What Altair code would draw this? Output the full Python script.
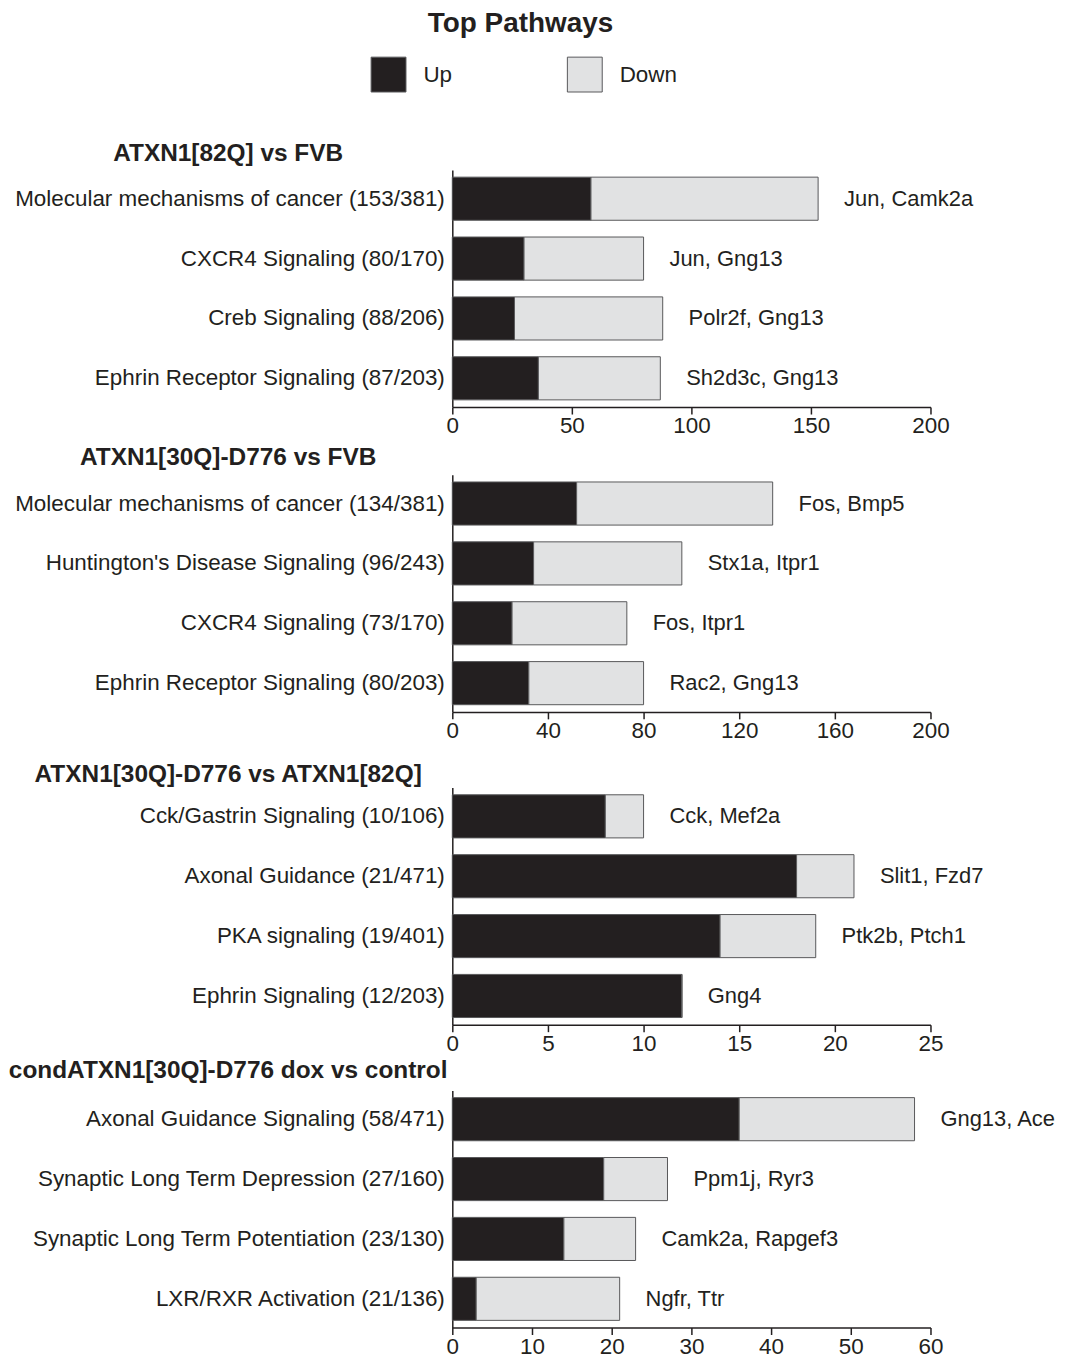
import altair as alt
import pandas as pd

FONT = "Liberation Sans"
INK = "#231f20"
UP_COLOR = "#231f20"
DOWN_COLOR = "#e1e2e3"
EDGE = "#58585a"
LAB = 22.5

main_title = "Top Pathways"
directions = ["Up", "Down"]

panel_titles = [
    "ATXN1[82Q] vs FVB",
    "ATXN1[30Q]-D776 vs FVB",
    "ATXN1[30Q]-D776 vs ATXN1[82Q]",
    "condATXN1[30Q]-D776 dox vs control",
]

p1_labels = ["Molecular mechanisms of cancer (153/381)", "CXCR4 Signaling (80/170)",
             "Creb Signaling (88/206)", "Ephrin Receptor Signaling (87/203)"]
p1_up = [58, 30, 26, 36]
p1_total = [153, 80, 88, 87]
p1_genes = ["Jun, Camk2a", "Jun, Gng13", "Polr2f, Gng13", "Sh2d3c, Gng13"]
p1_ticks = [0, 50, 100, 150, 200]

p2_labels = ["Molecular mechanisms of cancer (134/381)", "Huntington's Disease Signaling (96/243)",
             "CXCR4 Signaling (73/170)", "Ephrin Receptor Signaling (80/203)"]
p2_up = [52, 34, 25, 32]
p2_total = [134, 96, 73, 80]
p2_genes = ["Fos, Bmp5", "Stx1a, Itpr1", "Fos, Itpr1", "Rac2, Gng13"]
p2_ticks = [0, 40, 80, 120, 160, 200]

p3_labels = ["Cck/Gastrin Signaling (10/106)", "Axonal Guidance (21/471)",
             "PKA signaling (19/401)", "Ephrin Signaling (12/203)"]
p3_up = [8, 18, 14, 12]
p3_total = [10, 21, 19, 12]
p3_genes = ["Cck, Mef2a", "Slit1, Fzd7", "Ptk2b, Ptch1", "Gng4"]
p3_ticks = [0, 5, 10, 15, 20, 25]

p4_labels = ["Axonal Guidance Signaling (58/471)", "Synaptic Long Term Depression (27/160)",
             "Synaptic Long Term Potentiation (23/130)", "LXR/RXR Activation (21/136)"]
p4_up = [36, 19, 14, 3]
p4_total = [58, 27, 23, 21]
p4_genes = ["Gng13, Ace", "Ppm1j, Ryr3", "Camk2a, Rapgef3", "Ngfr, Ttr"]
p4_ticks = [0, 10, 20, 30, 40, 50, 60]

# (title, labels, up, total, genes, ticks, title offset, x-axis min extent)
panels = [
    (panel_titles[0], p1_labels, p1_up, p1_total, p1_genes, p1_ticks, 3, 38),
    (panel_titles[1], p2_labels, p2_up, p2_total, p2_genes, p2_ticks, 4, 50),
    (panel_titles[2], p3_labels, p3_up, p3_total, p3_genes, p3_ticks, 0, 33),
    (panel_titles[3], p4_labels, p4_up, p4_total, p4_genes, p4_ticks, 7, 20),
]


def make_panel(idx, title, labels, up, total, genes, ticks, toff, xext):
    rows = []
    for lab, u, t in zip(labels, up, total):
        rows.append({"pathway": lab, "dir": "Up", "start": 0, "end": u})
        rows.append({"pathway": lab, "dir": "Down", "start": u, "end": t})
    df = pd.DataFrame(rows)
    gdf = pd.DataFrame({"pathway": labels, "total": total, "genes": genes})

    xscale = alt.Scale(domain=[ticks[0], ticks[-1]], nice=False)
    yenc = alt.Y(
        "pathway:N", sort=labels, title=None,
        scale=alt.Scale(paddingInner=0.28, paddingOuter=0.12),
        axis=alt.Axis(ticks=False, labelFontSize=LAB, labelFont=FONT, labelColor=INK,
                      labelPadding=8, domainColor=INK, domainWidth=1.5,
                      minExtent=440, maxExtent=440, labelLimit=460),
    )
    legend = None
    if idx == 0:
        legend = alt.Legend(
            title=None, orient="none", direction="horizontal", legendX=-82, legendY=-114,
            symbolType="square", symbolSize=1225, symbolStrokeColor=EDGE,
            symbolStrokeWidth=1, labelFontSize=LAB, labelFont=FONT, labelColor=INK,
            labelOffset=17, columnPadding=113, symbolOpacity=1,
        )
    bars = alt.Chart(df).mark_bar(stroke=EDGE, strokeWidth=1).encode(
        x=alt.X("start:Q", scale=xscale, title=None,
                axis=alt.Axis(values=ticks, grid=False, tickSize=7, tickColor=INK,
                              tickWidth=1.5, domainColor=INK, domainWidth=1.5,
                              labelFontSize=LAB, labelFont=FONT, labelColor=INK,
                              labelPadding=1, labelFlush=False, minExtent=xext)),
        x2="end:Q",
        y=yenc,
        color=alt.Color("dir:N", scale=alt.Scale(domain=directions,
                                                 range=[UP_COLOR, DOWN_COLOR]),
                        legend=legend),
    )
    text = alt.Chart(gdf).mark_text(align="left", baseline="middle", dx=26, fontSize=22,
                                    font=FONT, color=INK).encode(
        x=alt.X("total:Q", scale=xscale),
        y=alt.Y("pathway:N", sort=labels),
        text="genes:N",
    )
    return alt.layer(bars, text).properties(
        width=480, height=238,
        title=alt.TitleParams(title, anchor="start", align="center", frame="group",
                              dx=-225, fontSize=24.5, font=FONT, fontWeight="bold",
                              color=INK, offset=toff),
    )


charts = [make_panel(i, *p) for i, p in enumerate(panels)]

chart = alt.vconcat(*charts, spacing=0).properties(
    title=alt.TitleParams(main_title, anchor="middle", fontSize=28, font=FONT,
                          fontWeight="bold", color=INK, offset=18, dx=-12),
    padding={"left": 0, "top": 0, "right": 0, "bottom": 0},
).configure_view(stroke=None)

chart.save("out.html", embed_options={"renderer": "svg", "actions": False})
